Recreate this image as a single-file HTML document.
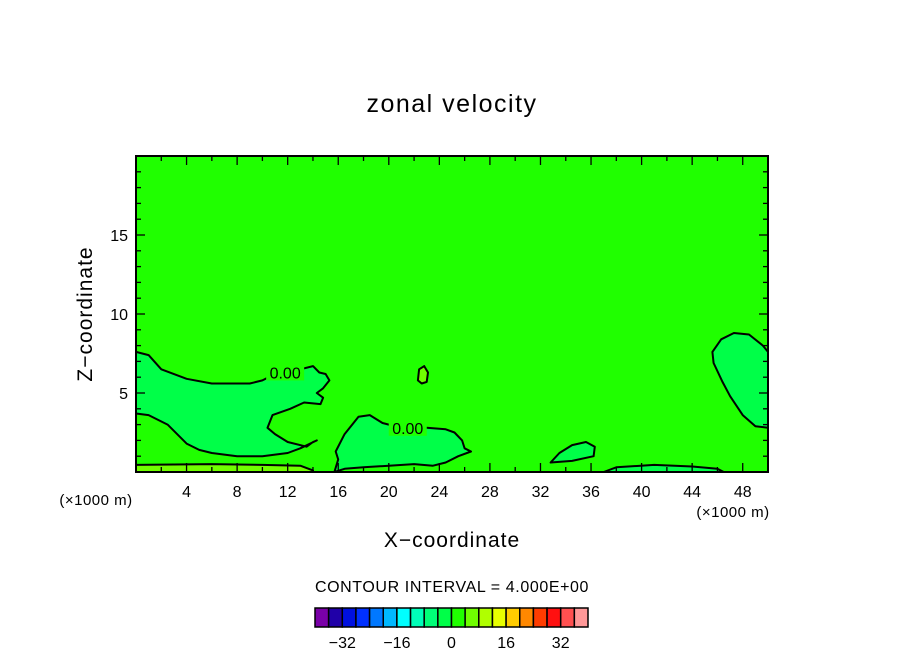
<!DOCTYPE html>
<html><head><meta charset="utf-8"><style>
body{margin:0;background:#fff}
svg{display:block;font-family:"Liberation Sans",sans-serif}
</style></head><body>
<svg id="c" width="904" height="654" viewBox="0 0 904 654">
<text x="452" y="112" font-size="25" letter-spacing="1.5" text-anchor="middle">zonal velocity</text>
<g id="plot"></g>
<g id="axes"></g>
<text x="452" y="547" font-size="21" letter-spacing="1" text-anchor="middle">X−coordinate</text>
<text transform="translate(92,314) rotate(-90)" font-size="21" letter-spacing="1" text-anchor="middle">Z−coordinate</text>
<text x="96" y="505" font-size="15" letter-spacing="0.5" text-anchor="middle">(×1000 m)</text>
<text x="733" y="517" font-size="15" letter-spacing="0.5" text-anchor="middle">(×1000 m)</text>
<text x="452" y="592" font-size="16" letter-spacing="0.6" text-anchor="middle">CONTOUR INTERVAL = 4.000E+00</text>
<g id="cbar"></g>
</svg>
<script>
const xTicks=[4,8,12,16,20,24,28,32,36,40,44,48];
const yTicks=[5,10,15];
const cbColors=["#7a00a8","#2000a8","#0010e0","#0030ff","#0078ff","#00b8ff","#00ffff","#00ffb8","#00ff78","#00ff48","#20ff00","#70ff00","#b0ff00","#e8ff00","#ffcc00","#ff8800","#ff3c00","#ff1010","#ff5050","#ff9898"];
const cbLabels=[-32,-16,0,16,32];
const regionLeft=[[0,7.6],[1,7.4],[2,6.5],[4,5.9],[6,5.6],[9,5.6],[10,5.8],[11,6.2],[13,6.5],[14,6.7],[14.5,6.3],[15,6.2],[15.3,5.8],[14.8,5.3],[14.3,5.0],[14.8,4.7],[14.6,4.3],[13.3,4.4],[12.2,4.0],[10.8,3.6],[10.4,2.8],[11,2.4],[12,1.9],[13.5,1.6],[14,1.9],[14.3,2.0],[13,1.5],[12,1.2],[10,1.0],[8,1.0],[6,1.2],[5,1.4],[4,1.8],[2.5,3.0],[1,3.6],[0,3.7]];
const regionRight=[[50,7.6],[49.6,8.0],[48.5,8.7],[47.3,8.8],[46.3,8.4],[45.6,7.6],[45.7,6.9],[46.4,5.7],[47,4.8],[48,3.6],[49,2.9],[50,2.8]];
const regionMid=[[15.7,0],[16,0.8],[15.8,1.3],[16.5,2.4],[17.6,3.5],[18.5,3.6],[19.5,3.1],[20,3.0],[23,2.8],[24.5,2.7],[25.2,2.5],[25.8,2.0],[26,1.5],[26.5,1.3],[25.5,1.0],[24.5,0.6],[23.5,0.4],[22,0.5],[20,0.4],[18,0.3],[16.5,0.2]];
const regionSmall=[[22.3,5.8],[22.4,6.5],[22.8,6.7],[23.1,6.3],[23,5.7],[22.6,5.6]];
const regionBlob=[[32.8,0.6],[33.5,1.2],[34.5,1.7],[35.6,1.9],[36.3,1.6],[36.2,1.0],[34.5,0.7]];
const regionBottom=[[37,0],[38,0.3],[41,0.45],[44,0.35],[46,0.2],[46.5,0]];
const stripLow=[[0,0],[0,0.45],[6,0.5],[10,0.45],[13,0.4],[14,0.1],[14,0]];
const L=136,R=768,T=156,B=472,XMAX=50,ZMAX=20;
const sx=v=>L+v/XMAX*(R-L), sy=v=>B-v/ZMAX*(B-T);
const NS="http://www.w3.org/2000/svg";
function mk(t,a,p){const e=document.createElementNS(NS,t);for(const k in a)e.setAttribute(k,a[k]);p.appendChild(e);return e;}
const plot=document.getElementById('plot');
const bg=mk('rect',{x:L,y:T,width:R-L,height:B-T,fill:'#20ff00'},plot);


function poly(pts,fill,name,closed){
 const d=pts.map((p,i)=>(i?'L':'M')+sx(p[0]).toFixed(1)+' '+sy(p[1]).toFixed(1)).join(' ')+(closed?'Z':'');
 const e=mk('path',{d:d,fill:fill,stroke:'#000','stroke-width':2,'stroke-linejoin':'round'},plot);
 
 
}
poly(stripLow,'#70ff00','positive-strip',false);
poly(regionLeft,'#00ff48','negative-region-left',false);
poly(regionRight,'#00ff48','negative-region-right',false);
poly(regionMid,'#00ff48','negative-region-middle',true);
poly(regionSmall,'#70ff00','small-positive-region',true);
poly(regionBlob,'#00ff48','negative-blob',true);
poly(regionBottom,'#00ff48','negative-bottom',false);
function clab(x,z,name){
 const r=mk('rect',{x:sx(x)-19,y:sy(z)-10,width:38,height:18,fill:'#20ff00'},plot);
 
 
 const t=mk('text',{x:sx(x),y:sy(z)+6,'font-size':16,'text-anchor':'middle'},plot);
 t.textContent='0.00';
 
 
}
clab(11.8,6.3,'contour-label-upper');
clab(21.5,2.8,'contour-label-lower');
const ax=document.getElementById('axes');
const fr=mk('rect',{x:L,y:T,width:R-L,height:B-T,fill:'none',stroke:'#000','stroke-width':2},ax);


for(let v=2;v<XMAX;v+=2){const len=v%4===0?9:5;
 mk('line',{x1:sx(v),x2:sx(v),y1:B,y2:B-len,stroke:'#000','stroke-width':1.3},ax);
 mk('line',{x1:sx(v),x2:sx(v),y1:T,y2:T+len,stroke:'#000','stroke-width':1.3},ax);}
for(let v=1;v<ZMAX;v++){const len=v%5===0?9:5;
 mk('line',{x1:L,x2:L+len,y1:sy(v),y2:sy(v),stroke:'#000','stroke-width':1.3},ax);
 mk('line',{x1:R,x2:R-len,y1:sy(v),y2:sy(v),stroke:'#000','stroke-width':1.3},ax);}
xTicks.forEach(v=>{const t=mk('text',{x:sx(v),y:B+25,'font-size':16,'text-anchor':'middle'},ax);t.textContent=v;
 
 });
yTicks.forEach(v=>{const t=mk('text',{x:L-8,y:sy(v)+6,'font-size':16,'text-anchor':'end'},ax);t.textContent=v;
 
 });
const cb=document.getElementById('cbar');
const CL=315,CR=588,CT=608,CB=627,VMIN=-40,VMAX=40;
const cx=v=>CL+(v-VMIN)/(VMAX-VMIN)*(CR-CL);
cbColors.forEach((c,i)=>{const v=VMIN+i*4;const r=mk('rect',{x:cx(v),y:CT,width:cx(v+4)-cx(v),height:CB-CT,fill:c,stroke:'#000','stroke-width':1.5},cb);
 
 });
cbLabels.forEach(v=>{const t=mk('text',{x:cx(v),y:648,'font-size':16,'text-anchor':'middle'},cb);t.textContent=v<0?'−'+(-v):v;
 
 });
</script>
</body></html>
